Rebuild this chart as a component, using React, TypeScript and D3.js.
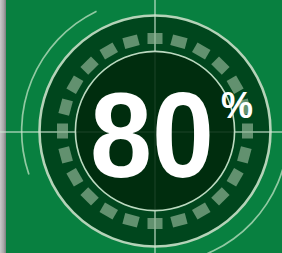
import React from 'react';
import * as d3 from 'd3';

// ---- data ----
const percentValue = [80];
const percentSymbol = ['%'];
const dashCount = [24];
const outerArcs = [
  { start: -109, end: -26 },
  { start: 92, end: 175 },
];

const W = 282;
const H = 253;

export default function App() {
  const cx = 155;
  const cy = 131;
  const rOuter = 116;
  const rInner = 79;
  const rDash = 92.5;
  const n = dashCount[0];
  const angle = d3.scaleLinear().domain([0, n]).range([0, 360]);
  const rad = (d: number) => (d * Math.PI) / 180;

  const ringArc = d3.arc<any>();
  const thinArc = d3.arc<any>().innerRadius(132.5).outerRadius(134.2);

  return (
    <svg
      width={W}
      height={H}
      style={{ position: 'fixed', left: 0, top: 0, display: 'block' }}
    >
      <defs>
        <linearGradient id="strip" x1="0" x2="1" y1="0" y2="0">
          <stop offset="0" stopColor="#c9c9c9" />
          <stop offset="0.6" stopColor="#a8a8a8" />
          <stop offset="1" stopColor="#7d7d7d" />
        </linearGradient>
      </defs>
      <rect x={0} y={0} width={W} height={H} fill="#088040" />
      <rect x={0} y={0} width={6} height={H} fill="url(#strip)" />

      {/* thin outer arcs */}
      {outerArcs.map((a, i) => (
        <path
          key={i}
          transform={`translate(${cx},${cy})`}
          d={thinArc({ startAngle: rad(a.start), endAngle: rad(a.end) }) || ''}
          fill="#a9d6b4"
          opacity={0.85}
        />
      ))}

      {/* outer disk */}
      <circle cx={cx} cy={cy} r={rOuter} fill="#00461d" />
      <circle cx={cx} cy={cy} r={rOuter - 0.5} fill="none" stroke="#b4d3b8" strokeWidth={2.6} />

      {/* crosshair */}
      <line x1={cx} x2={cx} y1={0} y2={H} stroke="#cfe8d4" strokeOpacity={0.55} strokeWidth={2} />
      <line x1={0} x2={W} y1={132} y2={132} stroke="#cfe8d4" strokeOpacity={0.55} strokeWidth={2} />

      {/* dashes */}
      {d3.range(n).map((i) => (
        <rect
          key={i}
          x={-7.5}
          y={-(rDash + 5.5)}
          width={15}
          height={11}
          fill="#90b597"
          fillOpacity={0.68}
          transform={`translate(${cx},${cy}) rotate(${angle(i)})`}
        />
      ))}

      {/* inner disk */}
      <circle cx={cx} cy={cy} r={rInner} fill="#002a0c" fillOpacity={0.88} />
      <path
        transform={`translate(${cx},${cy})`}
        d={ringArc({ innerRadius: rInner - 0.2, outerRadius: rInner + 1.4, startAngle: 0, endAngle: 2 * Math.PI }) || ''}
        fill="#bcd9c0"
      />

      {/* value */}
      <text
        x={90}
        y={177}
        fill="#ffffff"
        fontFamily="Liberation Sans, Arial, sans-serif"
        fontWeight={700}
        fontSize={120}
        textLength={124}
        lengthAdjust="spacingAndGlyphs"
      >
        {percentValue[0]}
      </text>
      <text
        x={221}
        y={118}
        fill="#ffffff"
        fontFamily="Liberation Sans, Arial, sans-serif"
        fontWeight={700}
        fontSize={36}
        textLength={32}
        lengthAdjust="spacingAndGlyphs"
      >
        {percentSymbol[0]}
      </text>
    </svg>
  );
}
